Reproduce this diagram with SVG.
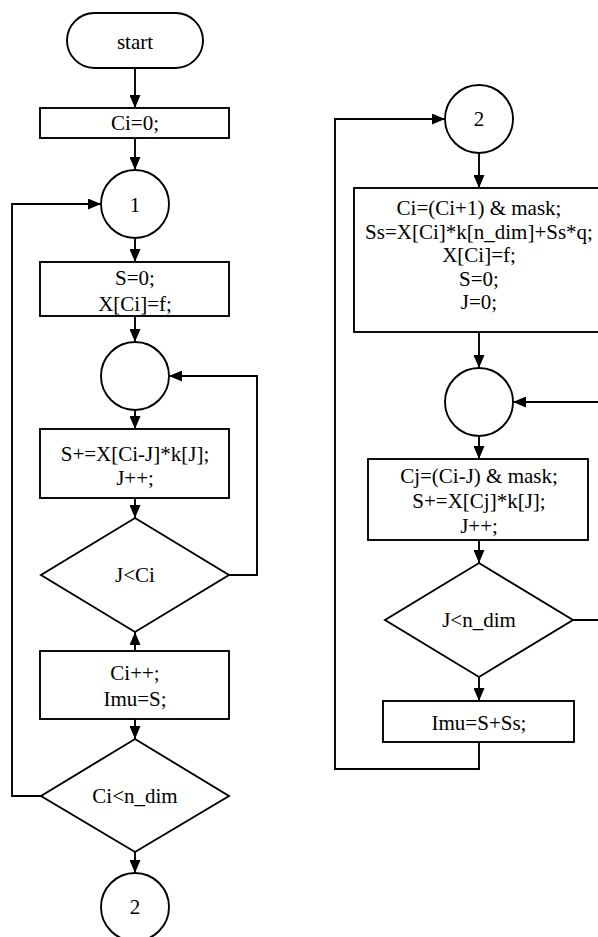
<svg xmlns="http://www.w3.org/2000/svg" width="598" height="937" viewBox="0 0 598 937" font-family="'Liberation Serif', 'Times New Roman', 'DejaVu Serif', serif" font-size="21">
<style>
.s{fill:#fff;stroke:#000;stroke-width:1.9}
.c{fill:none;stroke:#000;stroke-width:1.9}
.t{font-family:'Liberation Serif','Times New Roman','DejaVu Serif',serif;font-size:21px;fill:#000;text-anchor:middle}
</style>
<defs>
<marker id="a" markerUnits="userSpaceOnUse" markerWidth="14" markerHeight="11" refX="13" refY="5.5" orient="auto">
<path d="M0,0 L13,5.5 L0,11 Z" fill="#000"/>
</marker>
</defs>
<rect width="598" height="937" fill="#fff"/>
<g id="connectors">
<path class="c" d="M135,68 V108" marker-end="url(#a)"/>
<path class="c" d="M135,138 V170" marker-end="url(#a)"/>
<path class="c" d="M135,238 V262" marker-end="url(#a)"/>
<path class="c" d="M135,316 V342" marker-end="url(#a)"/>
<path class="c" d="M135,410 V429" marker-end="url(#a)"/>
<path class="c" d="M135,498 V518" marker-end="url(#a)"/>
<path class="c" d="M229,575 H257 V376 H169" marker-end="url(#a)"/>
<path class="c" d="M135,651 V632" marker-end="url(#a)"/>
<path class="c" d="M135,719 V739" marker-end="url(#a)"/>
<path class="c" d="M41,796 H12 V204 H101" marker-end="url(#a)"/>
<path class="c" d="M135,852 V873" marker-end="url(#a)"/>
<path class="c" d="M479,153 V188" marker-end="url(#a)"/>
<path class="c" d="M479,332 V368" marker-end="url(#a)"/>
<path class="c" d="M479,436 V459" marker-end="url(#a)"/>
<path class="c" d="M479,540 V563" marker-end="url(#a)"/>
<path class="c" d="M573,620 H601 V402 H513" marker-end="url(#a)"/>
<path class="c" d="M479,677 V701" marker-end="url(#a)"/>
<path class="c" d="M479,742 V769 H335 V119 H445" marker-end="url(#a)"/>
</g>
<g id="start">
<rect class="s" x="67" y="13" width="136" height="55" rx="27.5"/>
<text class="t" x="135" y="49">start</text>
</g>
<g id="init">
<rect class="s" x="40" y="108" width="189" height="30"/>
<text class="t" x="135" y="130">Ci=0;</text>
</g>
<g id="conn1">
<circle class="s" cx="135" cy="204" r="34"/>
<text class="t" x="135" y="212">1</text>
</g>
<g id="reset">
<rect class="s" x="40" y="262" width="189" height="54"/>
<text class="t" x="135" y="285">S=0;</text>
<text class="t" x="135" y="311">X[Ci]=f;</text>
</g>
<g id="loopJ">
<circle class="s" cx="135" cy="376" r="34"/>
</g>
<g id="accum">
<rect class="s" x="40" y="429" width="189" height="69"/>
<text class="t" x="135" y="461">S+=X[Ci-J]*k[J];</text>
<text class="t" x="135" y="485">J++;</text>
</g>
<g id="condJ">
<polygon class="s" points="135,518 229,575 135,632 41,575"/>
<text class="t" x="135" y="582">J&lt;Ci</text>
</g>
<g id="incCi">
<rect class="s" x="40" y="651" width="189" height="68"/>
<text class="t" x="135" y="680">Ci++;</text>
<text class="t" x="135" y="706">Imu=S;</text>
</g>
<g id="condCi">
<polygon class="s" points="135,739 229,796 135,852 41,796"/>
<text class="t" x="135" y="803">Ci&lt;n_dim</text>
</g>
<g id="conn2a">
<circle class="s" cx="135" cy="907" r="34"/>
<text class="t" x="135" y="914">2</text>
</g>
<g id="conn2b">
<circle class="s" cx="479" cy="119" r="34"/>
<text class="t" x="479" y="126">2</text>
</g>
<g id="update">
<rect class="s" x="354" y="188" width="250" height="144"/>
<text class="t" x="479" y="215">Ci=(Ci+1) &amp; mask;</text>
<text class="t" x="479" y="238.5">Ss=X[Ci]*k[n_dim]+Ss*q;</text>
<text class="t" x="479" y="262">X[Ci]=f;</text>
<text class="t" x="479" y="285.5">S=0;</text>
<text class="t" x="479" y="309">J=0;</text>
</g>
<g id="loopJ2">
<circle class="s" cx="479" cy="402" r="34"/>
</g>
<g id="accum2">
<rect class="s" x="368" y="459" width="220" height="81"/>
<text class="t" x="479" y="483">Cj=(Ci-J) &amp; mask;</text>
<text class="t" x="479" y="508">S+=X[Cj]*k[J];</text>
<text class="t" x="479" y="533">J++;</text>
</g>
<g id="condJ2">
<polygon class="s" points="479,563 573,620 479,677 385,620"/>
<text class="t" x="479" y="627">J&lt;n_dim</text>
</g>
<g id="out">
<rect class="s" x="383" y="701" width="191" height="41"/>
<text class="t" x="479" y="730">Imu=S+Ss;</text>
</g>
</svg>
